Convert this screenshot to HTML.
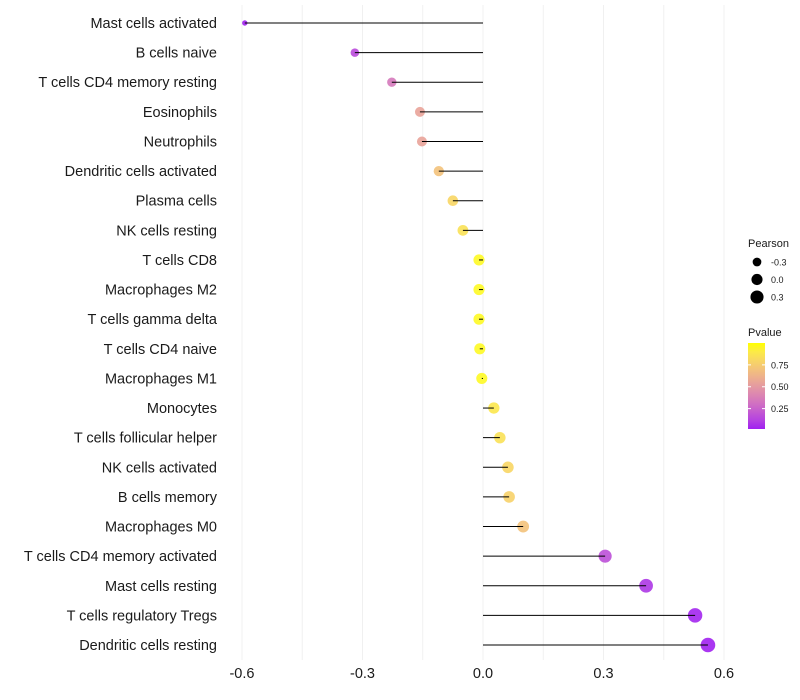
<!DOCTYPE html>
<html><head><meta charset="utf-8"><style>
body{margin:0;background:#fff;font-family:"Liberation Sans",sans-serif}
svg{display:block}
</style></head><body>
<svg id="c" width="800" height="700"></svg>
<script>
const categories=["Mast cells activated","B cells naive","T cells CD4 memory resting","Eosinophils","Neutrophils","Dendritic cells activated","Plasma cells","NK cells resting","T cells CD8","Macrophages M2","T cells gamma delta","T cells CD4 naive","Macrophages M1","Monocytes","T cells follicular helper","NK cells activated","B cells memory","Macrophages M0","T cells CD4 memory activated","Mast cells resting","T cells regulatory  Tregs ","Dendritic cells resting"];
const pearson=[-0.593,-0.319,-0.227,-0.157,-0.152,-0.110,-0.075,-0.050,-0.010,-0.010,-0.010,-0.008,-0.003,0.027,0.042,0.062,0.065,0.100,0.304,0.406,0.528,0.560];
const pvalue=[0.02,0.15,0.35,0.55,0.55,0.70,0.80,0.85,0.97,0.97,0.97,0.97,0.97,0.88,0.85,0.80,0.78,0.70,0.17,0.08,0.03,0.02];
const xTicks=[-0.6,-0.3,0.0,0.3,0.6];
const xTickLabels=["-0.6","-0.3","0.0","0.3","0.6"];
const sizeLegend=[-0.3,0.0,0.3];
const colorLegend=[0.25,0.50,0.75];

const NS="http://www.w3.org/2000/svg";
const svg=document.getElementById('c');
function el(t,a,p){const e=document.createElementNS(NS,t);for(const k in a)e.setAttribute(k,a[k]);(p||svg).appendChild(e);return e;}
const x=v=>483+(v)*401.7;
const y=i=>23+i*(645-23)/(categories.length-1);
const r=v=>Math.sqrt(Math.max(1.7,31+40*v));
function toLab(h){let c=[1,3,5].map(i=>parseInt(h.substr(i,2),16)/255).map(v=>v>0.04045?Math.pow((v+0.055)/1.055,2.4):v/12.92);
let X=(c[0]*0.4124+c[1]*0.3576+c[2]*0.1805)/0.95047,Y=c[0]*0.2126+c[1]*0.7152+c[2]*0.0722,Z=(c[0]*0.0193+c[1]*0.1192+c[2]*0.9505)/1.08883;
const f=t=>t>0.008856?Math.cbrt(t):7.787*t+16/116;return [116*f(Y)-16,500*(f(X)-f(Y)),200*(f(Y)-f(Z))];}
function fromLab(L,a,b){let fy=(L+16)/116,fx=fy+a/500,fz=fy-b/200;const g=t=>t*t*t>0.008856?t*t*t:(t-16/116)/7.787;
let X=g(fx)*0.95047,Y=g(fy),Z=g(fz)*1.08883;
let rgb=[X*3.2406-Y*1.5372-Z*0.4986,-X*0.9689+Y*1.8758+Z*0.0415,X*0.0557-Y*0.2040+Z*1.0570].map(v=>v>0.0031308?1.055*Math.pow(v,1/2.4)-0.055:12.92*v).map(v=>Math.round(Math.min(1,Math.max(0,v))*255));
return `rgb(${rgb.join(',')})`;}
const lo=toLab("#A020F0"),hi=toLab("#FFFF00");
const pmin=0.017,pmax=1.0;
function col(p){const t=Math.min(1,Math.max(0,(p-pmin)/(pmax-pmin)));return fromLab(lo[0]+(hi[0]-lo[0])*t,lo[1]+(hi[1]-lo[1])*t,lo[2]+(hi[2]-lo[2])*t);}

for(let v=-0.6;v<=0.61;v+=0.15){const g=el('line',{x1:x(v),x2:x(v),y1:5,y2:660,stroke:'#f0f0f0','stroke-width':1});

}
categories.forEach((c,i)=>{
 const t=el('text',{x:217,y:y(i)+5,'text-anchor':'end','font-size':14.5,fill:'#1a1a1a'});t.textContent=c;
 
 
 const pt=el('circle',{cx:x(pearson[i]),cy:y(i),r:r(pearson[i]),fill:col(pvalue[i]),opacity:0.9});
 
 
 const s=el('line',{x1:x(0),x2:x(pearson[i]),y1:y(i),y2:y(i),stroke:'#000','stroke-width':1});
 
 
});
xTicks.forEach((v,i)=>{const t=el('text',{x:x(v),y:678,'text-anchor':'middle','font-size':14.5,fill:'#1a1a1a'});t.textContent=xTickLabels[i];
 
 });
const lt=el('text',{x:748,y:247,'font-size':11,fill:'#1a1a1a'});lt.textContent='Pearson';


sizeLegend.forEach((v,i)=>{const yy=262+i*17.5;
 const c=el('circle',{cx:757,cy:yy,r:r(v),fill:'#000'});
 
 
 const t=el('text',{x:771,y:yy+3.5,'font-size':9,fill:'#1a1a1a'});t.textContent=v.toFixed(1);
 
 });
const ct=el('text',{x:748,y:336,'font-size':11,fill:'#1a1a1a'});ct.textContent='Pvalue';


const defs=el('defs',{});const lg=el('linearGradient',{id:'gr',x1:0,y1:1,x2:0,y2:0},defs);
for(let k=0;k<=10;k++){el('stop',{offset:k/10,'stop-color':col(pmin+(pmax-pmin)*k/10)},lg);}
const bar=el('rect',{x:748,y:343,width:17,height:86,fill:'url(#gr)'});


const py=p=>429-(p-pmin)/(pmax-pmin)*86;
colorLegend.forEach(p=>{
 el('line',{x1:748,x2:751,y1:py(p),y2:py(p),stroke:'#fff'});el('line',{x1:762,x2:765,y1:py(p),y2:py(p),stroke:'#fff'});
 const t=el('text',{x:771,y:py(p)+3.5,'font-size':9,fill:'#1a1a1a'});t.textContent=p.toFixed(2);
 
 });
</script>
</body></html>
